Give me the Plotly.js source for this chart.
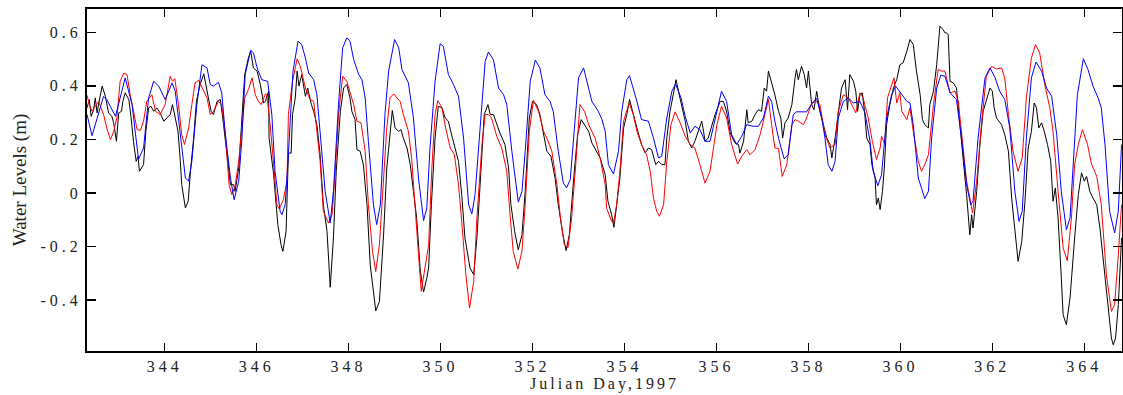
<!DOCTYPE html>
<html>
<head>
<meta charset="utf-8">
<script src="https://cdn.plot.ly/plotly-3.0.1.min.js"></script>
<style>
  html, body { margin: 0; padding: 0; background: #fff; }
  #chart { width: 1123px; height: 395px; }
  .xtick text, .ytick text { letter-spacing: 4px; }
  .xtitle { letter-spacing: 3px; }
</style>
</head>
<body>
<div id="chart"></div>
<script>
// Julian day / water level (m) for each series
const blackDay = [342.31,342.36,342.40,342.45,342.49,342.53,342.56,342.64,342.71,342.78,342.85,342.89,342.95,343.00,343.06,343.09,343.14,343.22,343.27,343.32,343.38,343.42,343.45,343.54,343.59,343.65,343.70,343.76,343.83,343.90,343.98,344.05,344.12,344.17,344.23,344.29,344.34,344.37,344.45,344.51,344.56,344.63,344.69,344.77,344.85,344.90,344.95,345.01,345.06,345.14,345.21,345.28,345.35,345.43,345.50,345.53,345.61,345.68,345.74,345.82,345.87,345.93,346.01,346.08,346.15,346.19,
346.26,346.27,346.37,346.46,346.53,346.57,346.64,346.69,346.75,346.78,346.84,346.88,346.92,346.98,347.06,347.11,347.19,347.24,347.31,347.38,347.45,347.53,347.60,347.67,347.73,347.82,347.89,347.96,348.03,348.07,348.14,348.18,348.25,348.32,348.40,348.47,348.52,348.59,348.67,348.76,348.83,348.90,348.95,349.01,349.09,349.14,349.19,349.27,349.34,349.41,349.48,349.56,349.63,349.70,349.74,349.80,349.88,
349.95,350.03,350.10,350.17,350.23,350.32,350.39,350.46,350.53,350.64,350.72,350.79,350.86,350.95,351.03,351.08,351.15,351.22,351.29,351.40,351.48,351.53,351.61,351.69,351.77,351.84,351.93,352.00,352.09,352.16,352.24,352.31,352.40,352.49,352.56,352.66,352.73,352.80,352.89,352.98,353.06,353.13,353.22,353.29,353.40,353.47,353.58,
353.64,353.72,353.77,353.83,353.90,353.98,354.05,354.11,354.17,354.27,354.37,354.45,354.52,354.59,354.68,354.74,354.81,354.88,354.92,354.99,355.06,355.12,355.19,355.26,355.32,355.39,355.46,355.53,355.61,355.68,355.72,355.75,355.82,355.90,355.97,356.08,356.15,356.22,356.30,356.40,356.48,356.51,356.59,356.66,356.69,356.77,356.84,356.91,356.98,357.04,357.09,357.13,357.20,357.27,
357.35,357.40,357.44,357.49,357.56,357.64,357.71,357.74,357.78,357.85,357.91,357.96,358.00,358.07,358.12,358.18,358.25,358.32,358.40,358.47,358.51,358.58,358.65,358.72,358.80,358.85,358.90,358.98,359.03,359.07,359.12,359.17,359.22,359.27,359.34,359.38,359.45,359.48,359.52,359.56,359.61,359.65,359.70,359.77,359.85,359.92,359.99,360.06,360.14,360.21,360.28,360.35,360.43,360.48,360.53,360.61,360.64,360.72,360.79,360.82,360.86,360.93,360.97,
361.00,361.04,361.08,361.15,361.22,361.29,361.37,361.44,361.51,361.55,361.58,361.66,361.73,361.80,361.87,361.95,362.00,362.04,362.09,362.14,362.20,362.27,362.35,362.42,362.49,362.56,362.64,362.71,362.78,362.85,362.91,362.96,363.01,363.07,363.13,363.20,363.27,363.32,363.37,363.43,363.50,363.54,363.61,363.69,363.79,363.87,363.94,364.00,364.05,364.12,364.19,364.27,364.34,364.41,364.52,364.59,364.63,364.68,364.74,364.81];
const blackLevel = [0.318,0.349,0.286,0.308,0.355,0.299,0.330,0.399,0.361,0.299,0.286,0.262,0.193,0.299,0.305,0.342,0.374,0.349,0.280,0.193,0.118,0.137,0.081,0.106,0.230,0.318,0.324,0.305,0.318,0.299,0.268,0.280,0.293,0.330,0.280,0.230,0.118,0.031,-0.056,-0.031,0.081,0.205,0.342,0.405,0.445,0.392,0.355,0.305,0.293,0.342,0.349,0.255,0.143,0.031,0.031,0.006,0.093,0.293,0.442,0.504,0.529,0.467,0.455,0.405,0.336,0.342,
0.380,0.205,0.068,-0.118,-0.193,-0.218,-0.143,0.149,0.149,0.293,0.355,0.455,0.399,0.442,0.361,0.392,0.330,0.305,0.255,0.143,-0.044,-0.143,-0.352,-0.168,0.081,0.305,0.392,0.405,0.355,0.305,0.274,0.162,0.156,0.106,-0.044,-0.268,-0.342,-0.440,-0.405,-0.156,0.093,0.218,0.308,0.243,0.230,0.237,0.205,0.168,0.106,0.006,-0.093,-0.293,-0.370,-0.318,-0.280,-0.044,0.205,
0.324,0.318,0.280,0.268,0.224,0.168,0.118,-0.006,-0.168,-0.280,-0.305,-0.168,0.056,0.293,0.330,0.293,0.293,0.255,0.224,0.181,0.093,-0.044,-0.143,-0.212,-0.156,0.006,0.280,0.342,0.330,0.293,0.218,0.156,0.137,0.056,-0.044,-0.156,-0.215,-0.156,0.044,0.218,0.274,0.255,0.230,0.187,0.149,0.131,0.068,
-0.031,-0.081,-0.128,-0.044,0.056,0.243,0.293,0.349,0.305,0.243,0.181,0.149,0.168,0.162,0.106,0.118,0.106,0.106,0.205,0.305,0.367,0.423,0.367,0.318,0.268,0.193,0.168,0.193,0.230,0.268,0.230,0.193,0.205,0.255,0.293,0.342,0.342,0.305,0.224,0.187,0.181,0.149,0.193,0.311,0.262,0.268,0.293,0.311,0.305,0.392,0.380,0.455,0.411,0.367,
0.305,0.280,0.205,0.262,0.280,0.330,0.430,0.461,0.423,0.473,0.442,0.392,0.455,0.330,0.311,0.380,0.305,0.255,0.205,0.181,0.131,0.205,0.305,0.392,0.423,0.311,0.442,0.417,0.380,0.305,0.367,0.374,0.305,0.205,0.181,0.106,0.056,-0.044,-0.019,-0.062,0.006,0.093,0.255,0.330,0.392,0.423,0.479,0.486,0.529,0.573,0.554,0.455,0.367,0.274,0.255,0.243,0.330,0.380,0.479,0.554,0.623,0.610,0.598,
0.598,0.592,0.417,0.411,0.392,0.255,0.118,-0.006,-0.156,-0.081,-0.131,0.006,0.181,0.305,0.342,0.392,0.380,0.318,0.280,0.268,0.255,0.218,0.156,-0.019,-0.143,-0.255,-0.181,-0.031,0.168,0.230,0.336,0.318,0.243,0.262,0.230,0.181,0.118,-0.031,0.019,-0.093,-0.318,-0.455,-0.492,-0.392,-0.168,-0.006,0.075,0.044,0.062,0.006,-0.019,-0.044,-0.131,-0.243,-0.442,-0.542,-0.567,-0.542,-0.417,-0.168];

const redDay = [342.31,342.36,342.42,342.49,342.56,342.67,342.74,342.82,342.89,342.96,343.03,343.11,343.18,343.25,343.32,343.40,343.47,343.54,343.61,343.72,343.80,343.90,344.01,344.12,344.17,344.22,344.30,344.37,344.43,344.52,344.59,344.66,344.74,344.85,344.92,344.99,345.06,345.17,345.24,345.32,345.40,345.46,345.53,345.61,345.68,345.74,345.82,345.90,345.97,346.04,346.10,346.19,
346.22,346.30,346.37,346.44,346.49,346.58,346.66,346.69,346.78,346.88,346.95,347.06,347.16,347.24,347.31,347.38,347.45,347.56,347.64,347.71,347.78,347.87,347.96,348.03,348.11,348.18,348.27,348.36,348.43,348.52,348.59,348.67,348.76,348.83,348.90,348.98,349.05,349.12,349.19,349.30,349.37,349.45,349.52,349.58,349.66,349.74,349.81,349.88,
349.94,350.03,350.11,350.21,350.30,350.39,350.46,350.55,350.63,350.72,350.79,350.90,350.97,351.04,351.11,351.22,351.33,351.44,351.51,351.58,351.68,351.77,351.84,351.93,352.02,352.13,352.24,352.31,352.42,352.53,352.60,352.69,352.77,352.85,352.94,353.03,353.13,353.22,353.36,353.47,353.58,
353.61,353.72,353.76,353.83,353.90,353.98,354.10,354.19,354.27,354.37,354.48,354.56,354.63,354.70,354.76,354.85,354.92,355.01,355.10,355.21,355.32,355.43,355.53,355.64,355.75,355.86,355.93,356.01,356.11,356.22,356.33,356.46,356.55,356.66,356.73,356.84,356.95,357.06,357.13,357.20,357.27,
357.35,357.43,357.53,357.64,357.71,357.78,357.89,357.96,358.07,358.18,358.25,358.36,358.47,358.58,358.65,358.76,358.87,358.94,359.03,359.12,359.19,359.30,359.39,359.48,359.56,359.59,359.66,359.72,359.81,359.86,359.92,359.99,360.03,360.14,360.21,360.28,360.39,360.46,360.53,360.61,360.72,360.82,360.90,360.97,
361.08,361.19,361.26,361.33,361.44,361.51,361.57,361.66,361.77,361.87,361.98,362.09,362.20,362.27,362.35,362.45,362.56,362.65,362.74,362.85,362.94,363.03,363.14,363.25,363.32,363.43,363.54,363.63,363.72,363.79,363.87,363.96,364.07,364.16,364.27,364.37,364.48,364.59,364.66,364.74,364.81];
const redLevel = [0.365,0.330,0.305,0.324,0.342,0.293,0.243,0.199,0.230,0.280,0.417,0.448,0.442,0.367,0.305,0.237,0.233,0.268,0.342,0.367,0.305,0.293,0.330,0.436,0.417,0.427,0.330,0.218,0.181,0.243,0.330,0.411,0.421,0.380,0.355,0.293,0.305,0.342,0.330,0.218,0.031,-0.006,0.025,0.118,0.255,0.355,0.386,0.430,0.367,0.342,0.330,0.370,
0.367,0.243,0.106,-0.044,-0.059,-0.025,0.044,0.293,0.417,0.501,0.473,0.392,0.349,0.342,0.230,0.118,-0.068,-0.112,-0.081,0.081,0.293,0.436,0.417,0.380,0.330,0.268,0.262,0.156,-0.044,-0.218,-0.293,-0.193,0.056,0.243,0.355,0.370,0.355,0.342,0.293,0.230,0.131,-0.044,-0.230,-0.367,-0.280,-0.193,0.093,0.293,
0.345,0.318,0.243,0.168,0.143,0.031,-0.106,-0.305,-0.430,-0.330,-0.093,0.181,0.293,0.293,0.280,0.212,0.168,0.081,-0.081,-0.218,-0.284,-0.218,-0.044,0.230,0.346,0.305,0.230,0.205,0.156,0.031,-0.081,-0.193,-0.205,-0.093,0.106,0.330,0.305,0.255,0.205,0.131,0.031,
-0.056,-0.106,-0.112,-0.044,0.081,0.268,0.336,0.293,0.230,0.181,0.143,0.081,-0.019,-0.068,-0.087,-0.044,0.118,0.255,0.303,0.262,0.212,0.181,0.168,0.106,0.037,0.081,0.156,0.255,0.324,0.280,0.181,0.108,0.137,0.162,0.143,0.162,0.218,0.293,0.349,0.255,0.168,
0.166,0.062,0.106,0.255,0.274,0.268,0.255,0.280,0.336,0.342,0.330,0.218,0.168,0.181,0.305,0.367,0.355,0.330,0.299,0.374,0.355,0.280,0.193,0.125,0.168,0.212,0.181,0.355,0.399,0.430,0.336,0.374,0.305,0.274,0.318,0.230,0.118,0.081,0.106,0.143,0.330,0.461,0.455,0.455,
0.374,0.380,0.342,0.218,0.044,-0.019,-0.075,0.044,0.268,0.436,0.473,0.463,0.467,0.430,0.293,0.156,0.081,0.131,0.355,0.504,0.554,0.523,0.405,0.318,0.230,0.006,-0.205,-0.253,-0.093,0.106,0.181,0.237,0.181,0.106,0.062,-0.044,-0.305,-0.442,-0.417,-0.230,-0.044];

const blueDay = [342.31,342.42,342.67,342.74,342.93,343.14,343.29,343.43,343.54,343.65,343.76,343.87,344.01,344.16,344.23,344.34,344.45,344.52,344.59,344.70,344.81,344.92,344.99,345.06,345.17,345.24,345.32,345.43,345.51,345.61,345.68,345.75,345.87,345.93,346.01,346.11,346.19,
346.24,346.33,346.40,346.51,346.55,346.62,346.69,346.79,346.90,346.98,347.06,347.13,347.24,347.31,347.38,347.49,347.60,347.67,347.78,347.87,347.96,348.03,348.11,348.22,348.29,348.36,348.43,348.54,348.61,348.69,348.79,348.87,349.00,349.09,349.16,349.30,349.41,349.52,349.63,349.70,349.77,349.88,
349.99,350.06,350.17,350.28,350.39,350.50,350.61,350.68,350.75,350.82,350.90,350.97,351.04,351.15,351.26,351.37,351.44,351.55,351.69,351.77,351.84,351.95,352.06,352.16,352.27,352.38,352.45,352.56,352.67,352.74,352.82,352.89,353.00,353.11,353.22,353.29,353.43,353.51,353.58,
353.65,353.76,353.87,353.94,354.05,354.11,354.19,354.27,354.37,354.52,354.63,354.74,354.81,354.92,355.03,355.11,355.23,355.32,355.43,355.53,355.64,355.75,355.86,355.97,356.11,356.22,356.33,356.44,356.55,356.66,356.80,356.91,357.02,357.13,357.20,357.27,
357.35,357.47,357.56,357.67,357.74,357.96,358.11,358.18,358.29,358.36,358.43,358.51,358.58,358.65,358.76,358.87,358.98,359.12,359.23,359.34,359.41,359.51,359.59,359.70,359.81,359.90,360.03,360.14,360.21,360.28,360.39,360.53,360.61,360.68,360.79,360.88,360.97,
361.08,361.22,361.33,361.44,361.53,361.58,361.69,361.84,361.95,362.06,362.16,362.27,362.38,362.49,362.58,362.65,362.74,362.85,362.95,363.07,363.18,363.29,363.40,363.50,363.61,363.69,363.76,363.85,363.98,364.08,364.19,364.30,364.37,364.45,364.55,364.66,364.74,364.81];
const blueLevel = [0.293,0.214,0.361,0.349,0.286,0.430,0.330,0.125,0.168,0.355,0.417,0.399,0.349,0.411,0.380,0.205,0.056,0.044,0.118,0.330,0.479,0.467,0.405,0.399,0.413,0.374,0.218,0.056,-0.025,0.044,0.205,0.442,0.533,0.523,0.467,0.423,0.420,
0.417,0.293,0.081,-0.068,-0.081,-0.044,0.143,0.455,0.567,0.554,0.504,0.448,0.423,0.367,0.230,0.006,-0.112,0.006,0.330,0.542,0.579,0.567,0.498,0.442,0.423,0.355,0.193,-0.044,-0.118,-0.044,0.293,0.455,0.573,0.542,0.461,0.411,0.280,0.056,-0.103,-0.056,0.168,0.417,
0.557,0.548,0.442,0.405,0.361,0.205,-0.044,-0.078,-0.006,0.156,0.367,0.492,0.526,0.498,0.392,0.367,0.330,0.156,-0.034,0.006,0.156,0.417,0.496,0.467,0.367,0.342,0.305,0.156,0.037,0.019,0.050,0.193,0.430,0.467,0.392,0.342,0.305,0.274,0.230,
0.106,0.071,0.156,0.305,0.423,0.438,0.392,0.342,0.274,0.268,0.205,0.131,0.137,0.280,0.380,0.407,0.355,0.286,0.224,0.249,0.237,0.193,0.193,0.280,0.380,0.342,0.218,0.181,0.212,0.255,0.249,0.249,0.280,0.361,0.342,0.268,
0.205,0.128,0.143,0.293,0.303,0.303,0.342,0.352,0.280,0.205,0.106,0.081,0.118,0.280,0.342,0.355,0.336,0.342,0.299,0.193,0.081,0.027,0.068,0.280,0.367,0.399,0.367,0.342,0.336,0.255,0.056,-0.021,0.006,0.205,0.392,0.440,0.436,
0.374,0.349,0.205,0.031,-0.044,-0.031,0.205,0.430,0.467,0.430,0.380,0.349,0.243,0.006,-0.106,-0.068,0.205,0.430,0.489,0.455,0.392,0.361,0.218,0.006,-0.137,-0.093,0.131,0.367,0.501,0.461,0.399,0.355,0.318,0.181,-0.068,-0.149,-0.068,0.181];

const xTickVals = [344,346,348,350,352,354,356,358,360,362,364];
const xTickText = ['344','346','348','350','352','354','356','358','360','362','364'];
const yTickVals = [-0.4,-0.2,0,0.2,0.4,0.6];
const yTickText = ['-0.4','-0.2','0','0.2','0.4','0.6'];

const serif = 'Liberation Serif, Times New Roman, serif';

const traces = [
  {x: blackDay, y: blackLevel, type: 'scatter', mode: 'lines', line: {color: '#000000', width: 1}, hoverinfo: 'skip'},
  {x: redDay, y: redLevel, type: 'scatter', mode: 'lines', line: {color: '#ff0000', width: 1}, hoverinfo: 'skip'},
  {x: blueDay, y: blueLevel, type: 'scatter', mode: 'lines', line: {color: '#0000ff', width: 1}, hoverinfo: 'skip'}
];

const layout = {
  width: 1123, height: 395,
  margin: {l: 87, r: 1, t: 9, b: 44},
  paper_bgcolor: '#ffffff', plot_bgcolor: '#ffffff',
  showlegend: false,
  font: {family: serif, size: 16, color: '#222222'},
  xaxis: {
    range: [342.31, 364.82],
    tickmode: 'array', tickvals: xTickVals, ticktext: xTickText,
    ticks: 'inside', ticklen: 8, tickwidth: 1.5, tickcolor: '#000',
    showline: true, linecolor: '#000', linewidth: 2, mirror: 'ticks',
    showgrid: false, zeroline: false,
    tickfont: {family: serif, size: 16, color: '#222'},
    title: {text: 'Julian Day,1997', font: {family: serif, size: 16, color: '#222'}, standoff: 2}
  },
  yaxis: {
    range: [-0.59, 0.687],
    tickmode: 'array', tickvals: yTickVals, ticktext: yTickText,
    ticks: 'inside', ticklen: 9, tickwidth: 1.5, tickcolor: '#000',
    showline: true, linecolor: '#000', linewidth: 2, mirror: 'ticks',
    showgrid: false, zeroline: false,
    tickfont: {family: serif, size: 16, color: '#222'},
    title: {text: 'Water Levels (m)', font: {family: serif, size: 19, color: '#222'}, standoff: 9}
  }
};

Plotly.newPlot('chart', traces, layout, {staticPlot: true, displayModeBar: false});
</script>
</body>
</html>
